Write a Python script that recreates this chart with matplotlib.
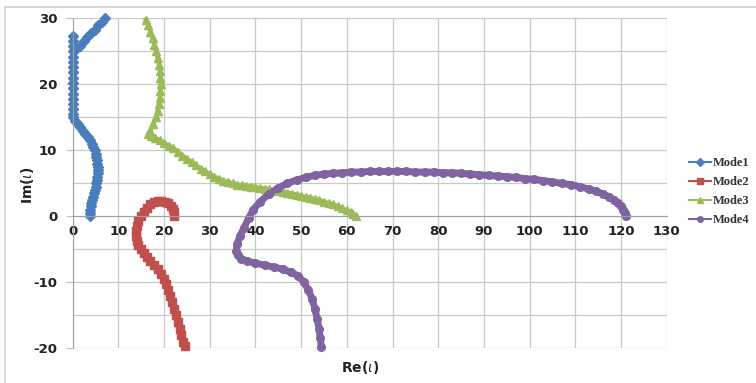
import matplotlib
matplotlib.use('Agg')
import matplotlib.pyplot as plt
from matplotlib.patches import Rectangle

plt.rcParams['axes.unicode_minus'] = False

# Mode1 (blue, diamonds)
mode1_re = [3.7, 3.7, 3.8, 3.9, 4.0, 4.2, 4.4, 4.6, 4.8, 5.0, 5.2, 5.3, 5.4, 5.5, 5.5, 5.5,
            5.4, 5.3, 5.2, 5.0, 4.8, 4.5, 4.2, 3.8, 3.3, 2.8, 2.3, 1.7, 1.1, 0.5, 0.1,
            0.0, 0.0, 0.0, 0.0, 0.0, 0.0, 0.0, 0.0, 0.0, 0.0, 0.0, 0.0, 0.0, 0.0, 0.0, 0.0,
            0.8, 1.6, 2.4, 3.2, 4.0, 4.8, 5.6, 6.4, 7.1]
mode1_im = [0.0, 0.5, 1.0, 1.5, 2.0, 2.5, 3.0, 3.5, 4.0, 4.5, 5.0, 5.5, 6.0, 6.5, 7.0, 7.5,
            8.0, 8.5, 9.0, 9.5, 10.0, 10.5, 11.0, 11.5, 12.0, 12.5, 13.0, 13.5, 14.0, 14.5, 15.0,
            15.5, 16.3, 17.0, 17.8, 18.6, 19.4, 20.2, 21.0, 21.8, 22.6, 23.4, 24.2, 25.0, 25.8, 26.6, 27.3,
            25.3, 25.8, 26.5, 27.1, 27.7, 28.3, 29.0, 29.5, 30.0]

# Mode2 (red, squares)
mode2_re = [22.2, 22.1, 21.9, 21.5, 20.9, 20.2, 19.4, 18.6, 17.8, 17.0, 16.2, 15.5, 14.9,
            14.4, 14.0, 13.8, 13.8, 14.0, 14.4, 14.9, 15.5, 16.2, 17.0, 17.8, 18.6, 19.3,
            19.9, 20.4, 20.9, 21.4, 21.8, 22.2, 22.6, 23.0, 23.4, 23.8, 24.2, 24.5]
mode2_im = [0.0, 0.6, 1.1, 1.6, 2.0, 2.2, 2.3, 2.3, 2.1, 1.8, 1.3, 0.7, 0.0,
            -0.7, -1.5, -2.3, -3.0, -3.7, -4.4, -5.0, -5.6, -6.2, -6.8, -7.4, -8.0, -8.7,
            -9.5, -10.3, -11.2, -12.1, -13.0, -14.0, -15.0, -16.0, -17.0, -18.0, -19.0, -19.6]

# Mode3 (green, triangles)
mode3_re = [16.0, 16.5, 17.0, 17.5, 17.9, 18.3, 18.6, 18.9, 19.1, 19.2, 19.3, 19.2, 19.1,
            18.9, 18.6, 18.2, 17.6, 17.0, 16.5,
            17.2, 18.0, 19.0, 20.0, 21.0, 22.0, 23.0, 24.0, 25.0, 26.0, 27.0, 28.0, 29.0,
            30.0, 31.0, 32.0, 33.0, 34.0, 35.0, 36.0, 37.0, 38.0, 39.0, 40.0, 41.0, 42.0,
            43.0, 44.0, 45.0, 46.0, 47.0, 48.0, 49.0, 50.0, 51.0, 52.0, 53.0, 54.0, 55.0,
            56.0, 57.0, 58.0, 59.0, 60.0, 60.8, 61.4, 62.0]
mode3_im = [29.8, 29.0, 28.0, 27.0, 26.0, 25.0, 24.0, 23.0, 22.0, 21.0, 20.0, 19.0, 18.0,
            17.0, 16.0, 15.0, 14.0, 13.0, 12.4,
            12.2, 11.9, 11.5, 11.1, 10.7, 10.3, 9.8, 9.2, 8.7, 8.2, 7.7, 7.2, 6.8,
            6.4, 6.0, 5.7, 5.4, 5.2, 5.0, 4.8, 4.7, 4.6, 4.5, 4.4, 4.3, 4.2,
            4.1, 4.0, 3.9, 3.7, 3.6, 3.4, 3.3, 3.1, 2.9, 2.8, 2.6, 2.4, 2.2,
            2.0, 1.8, 1.5, 1.2, 0.9, 0.6, 0.3, 0.0]

# Mode4 (purple, circles)
mode4_re = [121.1, 120.9, 120.5, 120.0, 119.3, 118.4, 117.3, 116.0, 114.5, 113.0, 111.0,
            109.0, 107.0, 105.0, 103.0, 101.0, 99.0, 97.0, 95.0, 93.0, 91.0, 89.0, 87.0,
            85.0, 83.0, 81.0, 79.0, 77.0, 75.0, 73.0, 71.0, 69.0, 67.0, 65.0, 63.0, 61.0,
            59.0, 57.0, 55.0, 53.0, 51.0, 49.0, 47.0, 45.0, 43.0, 41.0, 39.5, 38.5, 37.5,
            36.6, 36.0, 35.8, 36.1, 36.9, 38.2, 40.0, 42.0, 44.0, 46.0, 47.8, 49.3, 50.6,
            51.6, 52.4, 53.0, 53.5, 53.9, 54.2, 54.4]
mode4_im = [0.0, 0.5, 1.0, 1.5, 2.0, 2.5, 3.0, 3.4, 3.8, 4.1, 4.5,
            4.8, 5.0, 5.2, 5.4, 5.6, 5.7, 5.9, 6.0, 6.1, 6.2, 6.3, 6.4,
            6.5, 6.6, 6.6, 6.7, 6.7, 6.7, 6.8, 6.8, 6.8, 6.8, 6.8, 6.7, 6.7,
            6.6, 6.5, 6.4, 6.2, 5.9, 5.5, 5.0, 4.3, 3.4, 2.2, 1.0, -0.3, -1.7,
            -3.0, -4.2, -5.2, -5.9, -6.4, -6.8, -7.1, -7.4, -7.7, -8.0, -8.5, -9.0, -10.0,
            -11.2, -12.5, -14.0, -15.5, -17.0, -18.5, -19.8]

x_ticks = list(range(0, 131, 10))
y_ticks = [-20, -10, 0, 10, 20, 30]

fig = plt.figure(figsize=(7.56, 3.83), dpi=100)
ax = fig.add_axes([72.7 / 756, 1 - 348.3 / 383, 594 / 756, 330 / 383])

ax.plot(mode1_re, mode1_im, color='#4A7EBB', marker='D', markersize=5, lw=2.8,
        label='Mode1', clip_on=False)
ax.plot(mode2_re, mode2_im, color='#C0504D', marker='s', markersize=5.5, lw=5,
        label='Mode2', clip_on=False)
ax.plot(mode3_re, mode3_im, color='#9BBB59', marker='^', markersize=6, lw=3.2,
        label='Mode3', clip_on=False)
ax.plot(mode4_re, mode4_im, color='#8064A2', marker='o', markersize=5.5, lw=5,
        label='Mode4', clip_on=False)

ax.set_xlim(0, 130)
ax.set_ylim(-20, 30)
ax.set_xticks(x_ticks)
ax.set_yticks(y_ticks)
ax.set_yticks([-15, -5, 5, 15, 25], minor=True)
ax.grid(True, which='both', color='#c8c8c8', lw=0.9)
ax.set_axisbelow(True)

for s in ['top', 'right']:
    ax.spines[s].set_visible(False)
ax.spines['bottom'].set_position(('data', 0))
ax.spines['bottom'].set_color('#a0a0a0')
ax.spines['left'].set_color('#a0a0a0')
ax.tick_params(axis='x', length=0, pad=6, labelsize=9.5, colors='#222222')
ax.tick_params(axis='y', which='major', length=5, direction='out', color='#c0c0c0',
               pad=6, labelsize=9.5, labelcolor='#222222')
ax.tick_params(axis='y', which='minor', length=0)
for lab in ax.get_xticklabels() + ax.get_yticklabels():
    lab.set_fontweight('bold')

fig.text(360 / 756, 1 - 367 / 383, r'Re($\iota$)', ha='center', va='center',
         fontsize=10, fontweight='bold', color='#222222')
fig.text(28 / 756, 1 - 185 / 383, r'Im($\iota$)', ha='center', va='center',
         rotation=90, fontsize=10, fontweight='bold', color='#222222')

leg = fig.legend(loc='upper left', bbox_to_anchor=(683 / 756, 1 - 151 / 383), frameon=False,
                 handlelength=1.7, handletextpad=0.15, labelspacing=0.55, borderpad=0,
                 prop={'family': 'Liberation Serif', 'size': 9, 'weight': 'bold'})
for h in leg.legend_handles:
    h.set_linewidth(1.5)
    h.set_markersize(4)
for t in leg.get_texts():
    t.set_color('#333333')

fig.patches.append(Rectangle((5 / 756, -0.2), 1.2, 0.2 + 1 - 7 / 383, transform=fig.transFigure,
                             fill=False, edgecolor='#cfcfcf', lw=1.2))

fig.savefig('out.png', dpi=100)
